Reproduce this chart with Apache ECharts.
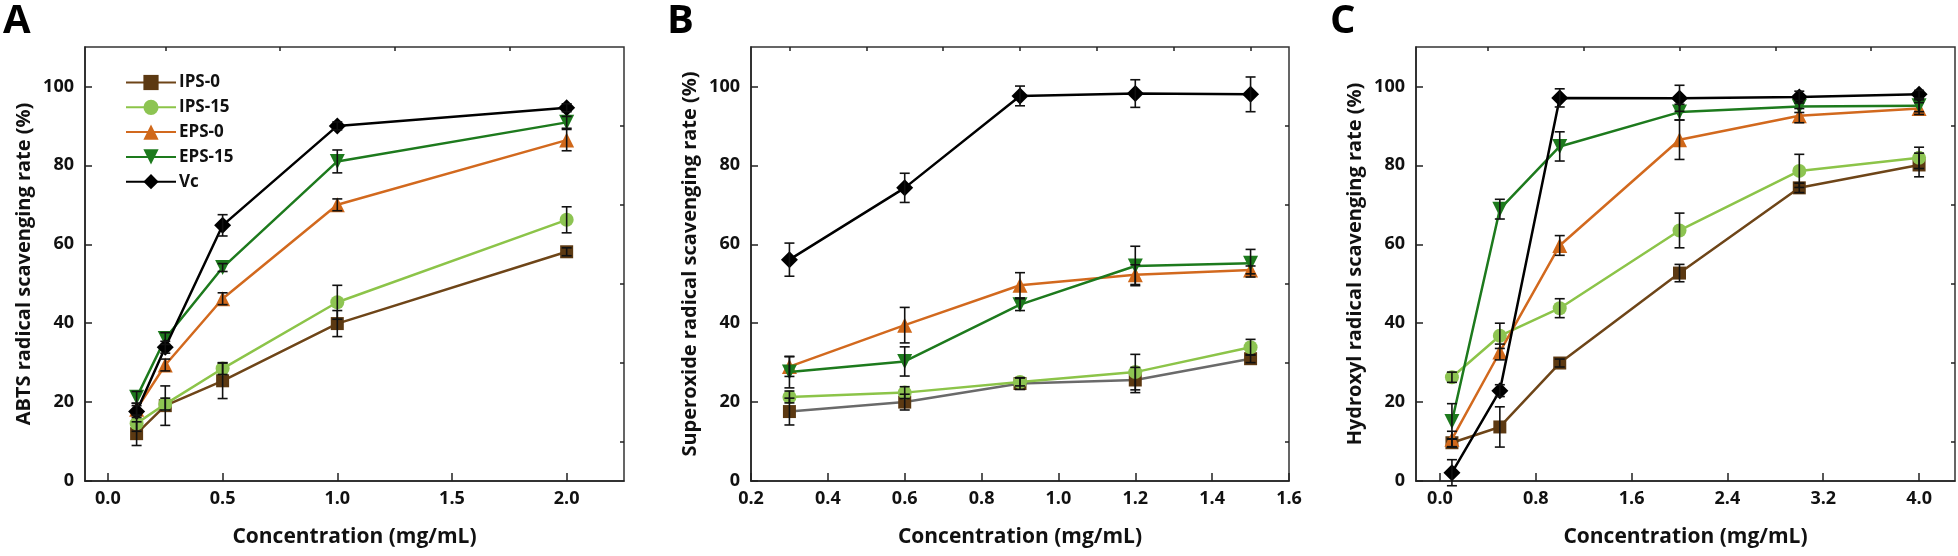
<!DOCTYPE html>
<html><head><meta charset="utf-8">
<script src="https://cdn.jsdelivr.net/npm/echarts@6/dist/echarts.min.js"></script>
<style>html,body{margin:0;padding:0;background:#fff}#c{width:1958px;height:556px}</style>
</head><body><div id="c"></div>
<script>
const seriesNames = ['IPS-0','IPS-15','EPS-0','EPS-15','Vc'];
const xA = [0.125, 0.25, 0.5, 1.0, 2.0];
const xB = [0.3, 0.6, 0.9, 1.2, 1.5];
const xC = [0.1, 0.5, 1.0, 2.0, 3.0, 4.0];

const aIPS0  = [12.0, 19.1, 25.4, 39.9, 58.1];
const aIPS15 = [14.6, 19.5, 28.5, 45.3, 66.2];
const aEPS0  = [18.2, 29.4, 46.2, 70.0, 86.4];
const aEPS15 = [21.2, 36.1, 54.1, 81.0, 90.9];
const aVc    = [17.6, 33.9, 64.8, 90.0, 94.6];
const aIPS0Err  = [3.0, 5.0, 4.5, 3.3, 1.0];
const aIPS15Err = [2.0, 1.5, 1.5, 4.3, 3.3];
const aEPS0Err  = [1.5, 1.5, 1.5, 1.5, 2.7];
const aEPS15Err = [1.5, 1.5, 1.0, 2.9, 1.5];
const aVcErr    = [1.5, 1.5, 2.7, 1.0, 1.0];

const bIPS0  = [17.6, 20.0, 24.7, 25.6, 31.0];
const bIPS15 = [21.3, 22.4, 25.1, 27.6, 33.9];
const bEPS0  = [29.0, 39.5, 49.6, 52.3, 53.5];
const bEPS15 = [27.6, 30.3, 44.7, 54.5, 55.2];
const bVc    = [56.1, 74.3, 97.6, 98.2, 98.0];
const bIPS0Err  = [3.4, 2.0, 1.5, 3.2, 1.0];
const bIPS15Err = [1.5, 1.5, 1.0, 4.5, 2.0];
const bEPS0Err  = [2.5, 4.5, 3.2, 2.5, 1.0];
const bEPS15Err = [4.0, 3.7, 1.5, 5.0, 3.5];
const bVcErr    = [4.2, 3.7, 2.5, 3.5, 4.4];

const cIPS0  = [9.7, 13.7, 29.9, 52.7, 74.3, 80.1];
const cIPS15 = [26.3, 36.8, 43.8, 63.5, 78.6, 81.9];
const cEPS0  = [10.6, 32.7, 59.7, 86.5, 92.6, 94.4];
const cEPS15 = [15.1, 68.9, 84.8, 93.5, 94.9, 95.1];
const cVc    = [2.1, 22.9, 97.1, 97.0, 97.3, 98.0];
const cIPS0Err  = [1.0, 5.1, 1.0, 2.2, 1.2, 3.0];
const cIPS15Err = [1.3, 3.2, 2.4, 4.4, 4.2, 2.7];
const cEPS0Err  = [2.0, 2.0, 2.5, 5.0, 1.8, 1.5];
const cEPS15Err = [4.5, 2.5, 3.7, 2.0, 1.5, 1.5];
const cVcErr    = [3.3, 1.5, 2.3, 3.3, 1.5, 1.0];

const yTicks = [0, 20, 40, 60, 80, 100];
const yMinor = [10, 30, 50, 70, 90];
const xTicksA = [0.0, 0.5, 1.0, 1.5, 2.0];
const xMinorA = [0.25, 0.75, 1.25, 1.75];
const xTicksB = [0.2, 0.4, 0.6, 0.8, 1.0, 1.2, 1.4, 1.6];
const xMinorB = [0.3, 0.5, 0.7, 0.9, 1.1, 1.3, 1.5];
const xTicksC = [0.0, 0.8, 1.6, 2.4, 3.2, 4.0];
const xMinorC = [0.4, 1.2, 2.0, 2.8, 3.6];

const yTitles = ['ABTS radical scavenging rate (%)', 'Superoxide radical scavenging rate (%)', 'Hydroxyl radical scavenging rate (%)'];
const xTitle = 'Concentration (mg/mL)';
const panelLetters = ['A', 'B', 'C'];

const FONT = '"Open Sans", "DejaVu Sans", sans-serif';
const styles = {
  'IPS-0':  {line: '#6e4518', fill: '#5c3912', symbol: 'rect', rot: 0, size: 13},
  'IPS-15': {line: '#8cc449', fill: '#8dc452', symbol: 'circle', rot: 0, size: 14},
  'EPS-0':  {line: '#d2691e', fill: '#d0681a', symbol: 'triangle', rot: 0, size: 15},
  'EPS-15': {line: '#1d7a1d', fill: '#1d7a1d', symbol: 'triangle', rot: 180, size: 15},
  'Vc':     {line: '#000000', fill: '#000000', symbol: 'diamond', rot: 0, size: 17}
};

const panels = [
  {x: xA, xMin: -0.1, xMax: 2.25, ticks: xTicksA, minor: xMinorA, fmt: v => v.toFixed(1), left: 85, width: 539,
   vals: [aIPS0, aIPS15, aEPS0, aEPS15, aVc], errs: [aIPS0Err, aIPS15Err, aEPS0Err, aEPS15Err, aVcErr], lineOverride: {}},
  {x: xB, xMin: 0.2, xMax: 1.6, ticks: xTicksB, minor: xMinorB, fmt: v => v.toFixed(1), left: 751, width: 538,
   vals: [bIPS0, bIPS15, bEPS0, bEPS15, bVc], errs: [bIPS0Err, bIPS15Err, bEPS0Err, bEPS15Err, bVcErr], lineOverride: {'IPS-0': '#6a6a6a'}},
  {x: xC, xMin: -0.2, xMax: 4.3, ticks: xTicksC, minor: xMinorC, fmt: v => v.toFixed(1), left: 1416, width: 539,
   vals: [cIPS0, cIPS15, cEPS0, cEPS15, cVc], errs: [cIPS0Err, cIPS15Err, cEPS0Err, cEPS15Err, cVcErr], lineOverride: {}}
];

const grid = [], xAxis = [], yAxis = [], series = [];
const axisColor = '#222';
const labelStyle = {color: '#111', fontFamily: FONT, fontWeight: 'bold', fontSize: 18};

panels.forEach((p, i) => {
  grid.push({left: p.left, width: p.width, top: 47, height: 434, show: true, borderColor: '#333', borderWidth: 1.5, backgroundColor: 'transparent'});
  xAxis.push({type: 'value', gridIndex: i, min: p.xMin, max: p.xMax, name: xTitle, nameLocation: 'middle', nameGap: 46,
    nameTextStyle: {color: '#111', fontFamily: FONT, fontWeight: 'bold', fontSize: 21},
    axisLine: {show: true, onZero: false, lineStyle: {color: axisColor, width: 1.5}},
    axisTick: {show: true, inside: true, length: 8, customValues: p.ticks, lineStyle: {color: axisColor, width: 1.5}},
    axisLabel: Object.assign({show: true, margin: 9, customValues: p.ticks, formatter: v => p.fmt(v)}, labelStyle),
    splitLine: {show: false}});
  yAxis.push({type: 'value', gridIndex: i, min: 0, max: 110, name: yTitles[i], nameLocation: 'middle', nameGap: 51,
    nameTextStyle: {color: '#111', fontFamily: FONT, fontWeight: 'bold', fontSize: 20},
    axisLine: {show: true, onZero: false, lineStyle: {color: axisColor, width: 1.5}},
    axisTick: {show: true, inside: true, length: 7, customValues: yTicks, lineStyle: {color: axisColor, width: 1.5}},
    axisLabel: Object.assign({show: true, margin: 11, customValues: yTicks}, labelStyle),
    splitLine: {show: false}});
});
panels.forEach((p, i) => {
  xAxis.push({type: 'value', gridIndex: i, min: p.xMin, max: p.xMax,
    axisLine: {show: false, onZero: false}, splitLine: {show: false},
    axisTick: {show: true, inside: true, length: 4, customValues: p.minor, lineStyle: {color: axisColor, width: 1.5}},
    axisLabel: {show: false, customValues: p.minor}});
  yAxis.push({type: 'value', gridIndex: i, min: 0, max: 110,
    axisLine: {show: false, onZero: false}, splitLine: {show: false},
    axisTick: {show: true, inside: true, length: 4, customValues: yMinor, lineStyle: {color: axisColor, width: 1.5}},
    axisLabel: {show: false, customValues: yMinor}});
});

panels.forEach((p, i) => {
  seriesNames.forEach((name, k) => {
    const st = styles[name];
    const lc = p.lineOverride[name] || st.line;
    const pts = p.x.map((xv, j) => [xv, p.vals[k][j]]);
    series.push({type: 'line', name: name, xAxisIndex: i, yAxisIndex: i, data: pts,
      symbol: st.symbol, symbolSize: st.size, symbolRotate: st.rot, showAllSymbol: true,
      lineStyle: {color: lc, width: 2.5}, itemStyle: {color: st.fill, borderWidth: 0},
      emphasis: {disabled: true}, animation: false, z: 2 + k});
    const errData = p.x.map((xv, j) => [xv, p.vals[k][j], p.errs[k][j]]);
    series.push({type: 'custom', name: name + ' err', xAxisIndex: i, yAxisIndex: i, data: errData, z: 10, animation: false,
      renderItem: function (params, api) {
        const xv = api.value(0), yv = api.value(1), e = api.value(2);
        const top = api.coord([xv, yv + e]);
        const bot = api.coord([xv, yv - e]);
        const hw = 5;
        const style = {stroke: '#111', lineWidth: 1.6, fill: null};
        return {type: 'group', children: [
          {type: 'line', shape: {x1: top[0], y1: top[1], x2: bot[0], y2: bot[1]}, style: style},
          {type: 'line', shape: {x1: top[0] - hw, y1: top[1], x2: top[0] + hw, y2: top[1]}, style: style},
          {type: 'line', shape: {x1: bot[0] - hw, y1: bot[1], x2: bot[0] + hw, y2: bot[1]}, style: style}
        ]};
      }});
  });
});

const graphic = [
  {type: 'text', left: 3, top: 2, style: {text: panelLetters[0], font: 'bold 40px ' + FONT, fill: '#000'}},
  {type: 'text', left: 667, top: 2, style: {text: panelLetters[1], font: 'bold 40px ' + FONT, fill: '#000'}},
  {type: 'text', left: 1330, top: 2, style: {text: panelLetters[2], font: 'bold 40px ' + FONT, fill: '#000'}}
];

const chart = echarts.init(document.getElementById('c'), null, {renderer: 'canvas'});
chart.setOption({
  animation: false,
  backgroundColor: '#fff',
  grid: grid, xAxis: xAxis, yAxis: yAxis, series: series, graphic: graphic,
  legend: {data: seriesNames, orient: 'vertical', left: 120, top: 69, itemWidth: 50, itemHeight: 19, itemGap: 7.8,
    textStyle: {color: '#111', fontFamily: FONT, fontWeight: 'bold', fontSize: 17, padding: [0, 0, 0, -2]},
    selectedMode: false, inactiveColor: '#ccc'}
});
</script></body></html>
